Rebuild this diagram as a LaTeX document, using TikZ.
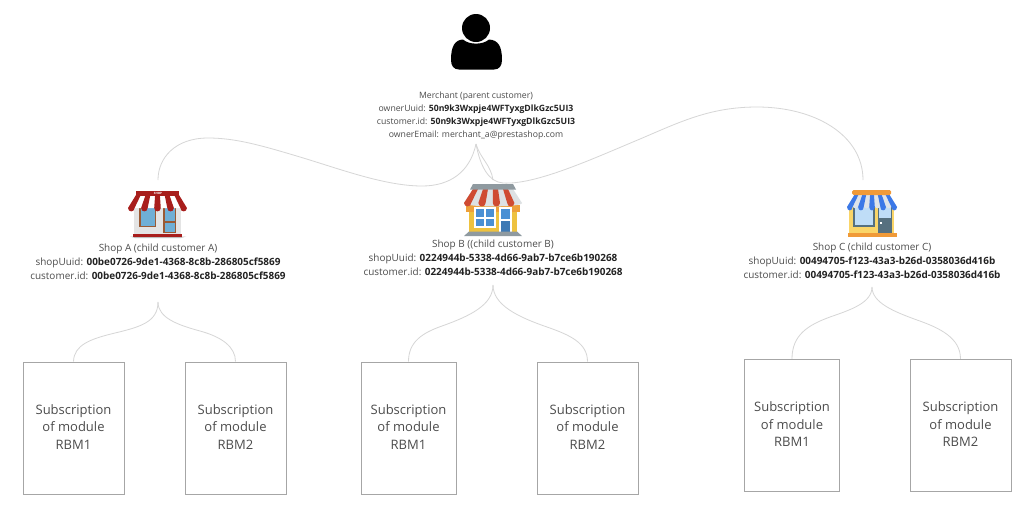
\documentclass[tikz,border=0pt]{standalone}
\usepackage{fontspec}
\setmainfont{Open Sans}
\definecolor{txt}{HTML}{4C4C4C}
\definecolor{boldtxt}{HTML}{222222}
\definecolor{wire}{HTML}{D6D6D6}
\definecolor{frame}{HTML}{A6A6A6}
\definecolor{redA}{HTML}{A81E1C}
\definecolor{wallA}{HTML}{E4E4E4}
\definecolor{glassA}{HTML}{6FAFD6}
\definecolor{woodA}{HTML}{9A5A34}
\definecolor{greyB}{HTML}{8F9AA0}
\definecolor{redB}{HTML}{CF4B32}
\definecolor{lightB}{HTML}{DDE1E3}
\definecolor{yellowB}{HTML}{EEC23F}
\definecolor{orangeB}{HTML}{EDA03A}
\definecolor{blueB}{HTML}{4A90D4}
\definecolor{orangeC}{HTML}{F09A38}
\definecolor{blueC}{HTML}{3B78E7}
\definecolor{whiteC}{HTML}{DDE3EA}
\definecolor{yellowC}{HTML}{FAD568}
\definecolor{glassC}{HTML}{BFDDF7}
\definecolor{slateC}{HTML}{56707F}
\tikzset{
  x=1pt,y=-1pt,
  wireline/.style={draw=wire,line width=0.8pt},
  infotext/.style={align=center,text=txt,font=\fontsize{9.95}{14}\selectfont,inner sep=0pt},
  merchanttext/.style={infotext,font=\fontsize{8.7}{13}\selectfont},
  subbox/.style={draw=frame,line width=1pt,fill=white,minimum width=101pt,minimum height=132pt,inner sep=0pt,align=center,text=txt,font=\fontsize{13}{17.5}\selectfont},
  narrowbox/.style={subbox,minimum width=95pt},
}
\newcommand{\bv}[1]{\textcolor{boldtxt}{\textbf{#1}}}
\newcommand{\subtext}[1]{Subscription\\of module\\RBM#1\rule[-2pt]{0pt}{2pt}}
% colour, top x, top step, bottom x, bottom step, y top, y bottom, list of stripes
\newcommand{\awning}[8]{%
  \foreach \i in {#8}{%
    \pgfmathsetmacro{\ta}{#2+\i*#3}\pgfmathsetmacro{\tb}{\ta+#3}%
    \pgfmathsetmacro{\ba}{#4+\i*#5}\pgfmathsetmacro{\bb}{\ba+#5}%
    \fill[#1] (\ta,#6) -- (\tb,#6) -- (\bb,#7) .. controls (\bb,#7+4.5) and (\ba,#7+4.5) .. (\ba,#7) -- cycle;
  }%
}
\begin{document}
\begin{tikzpicture}
\useasboundingbox (0,0) rectangle (1026,504);
\fill[white] (0,0) rectangle (1026,504);

% connector ends
\coordinate (mOut) at (476,144);
\coordinate (aIn) at (158,180);
\coordinate (bIn) at (493,180);
\coordinate (cIn) at (863,180);
\coordinate (aOut) at (158,302);
\coordinate (bOut) at (493,285);
\coordinate (cOut) at (872,287);

% boxes
\node[subbox] (a1) at (73.5,428) {\subtext{1}};
\node[subbox] (a2) at (235.5,428) {\subtext{2}};
\node[narrowbox] (b1) at (408.5,428) {\subtext{1}};
\node[subbox] (b2) at (587.5,428) {\subtext{2}};
\node[narrowbox] (c1) at (792,425.3) {\subtext{1}};
\node[subbox] (c2) at (960.5,425.3) {\subtext{2}};

% connectors
\draw[wireline] (mOut) .. controls (470,172) and (450,186) .. (422,186)
  .. controls (385,186) and (340,169) .. (300,157)
  .. controls (260,145) and (235,138) .. (208,138)
  .. controls (175,138) and (158,158) .. (aIn);
\draw[wireline] (mOut) .. controls (480,165) and (488,182) .. (503,183)
  .. controls (535,185) and (590,160) .. (640,139)
  .. controls (680,122) and (710,107) .. (757,107)
  .. controls (815,107) and (863,135) .. (cIn);
\draw[wireline] (mOut) .. controls (480,158) and (491,165) .. (bIn);

\draw[wireline] (aOut) .. controls (158,322) and (140,327) .. (115,333)
  .. controls (90,339) and (74,345) .. (a1.north);
\draw[wireline] (aOut) .. controls (158,318) and (178,325) .. (200,331)
  .. controls (222,337) and (235.5,347) .. (a2.north);
\draw[wireline] (bOut) .. controls (493,305) and (470,316) .. (442,326)
  .. controls (422,333) and (408.5,342) .. (b1.north);
\draw[wireline] (bOut) .. controls (493,305) and (518,317) .. (547,327)
  .. controls (570,335) and (587.5,343) .. (b2.north);
\draw[wireline] (cOut) .. controls (872,303) and (850,310) .. (830,317)
  .. controls (808,325) and (792,335) .. (c1.north);
\draw[wireline] (cOut) .. controls (872,303) and (895,312) .. (917,320)
  .. controls (940,328) and (960.5,338) .. (c2.north);

% merchant icon
\fill[black] (476,28) circle (14);
\fill[black] (451,60) .. controls (451,46) and (455,40) .. (463,39.5)
  .. controls (469,45) and (483,45) .. (489,39.5)
  .. controls (498,40) and (502,46) .. (502,60)
  .. controls (502,66) and (499,69.5) .. (494,69.5) -- (459,69.5)
  .. controls (454,69.5) and (451,66) .. (451,60) -- cycle;

% shop A icon
\fill[black!25] (130,236.5) -- (186,236.5) -- (181,238) -- (135,238) -- cycle;
\fill[wallA] (134,205) rectangle (181,234);
\fill[woodA] (139,208) rectangle (156,227);
\fill[glassA] (140.5,208) rectangle (154.5,225.5);
\fill[woodA] (163,208) rectangle (176,233);
\fill[glassA] (164.5,208) rectangle (174.5,221);
\fill[glassA] (164.5,223) rectangle (174.5,232);
\fill[white] (136,195) -- (179,195) -- (187,208) -- (128,208) -- cycle;
\awning{redA}{136}{4.78}{128}{6.55}{195}{208}{0,2,4,6,8}
\fill[redA] (136,191) rectangle (179,196);
\fill[redA] (133,233.5) rectangle (182,236.5);
\node[text=white,font=\fontsize{3}{3}\selectfont\bfseries,inner sep=0pt] (shopword) at (158,193) {SHOP};

% shop B icon
\fill[yellowB] (469,205) rectangle (517,232);
\fill[orangeB] (466,205) rectangle (520,212);
\fill[white] (474,207) rectangle (496,228);
\fill[blueB] (476,209) rectangle (484,217);
\fill[blueB] (486,209) rectangle (494,217);
\fill[blueB] (476,219) rectangle (484,226);
\fill[blueB] (486,219) rectangle (494,226);
\fill[white] (499,207) rectangle (512,232);
\fill[blueB] (501,209) rectangle (510,219);
\fill[blueB!85!black] (501,221) rectangle (510,232);
\fill[greyB] (464,236) -- (469,231.5) -- (517,231.5) -- (522,236) -- cycle;
\fill[lightB] (473,189) -- (513,189) -- (522,203) .. controls (522,207.5) and (464,207.5) .. (464,203) -- cycle;
\awning{redB}{473}{5}{464}{7.2}{189}{203}{0,2,4,6}
\fill[greyB] (470,189.5) -- (473,184) -- (513,184) -- (516,189.5) -- cycle;

% shop C icon
\fill[yellowC] (849,205) rectangle (894,234);
\fill[slateC] (853,205) rectangle (874.5,226.5);
\fill[glassC] (854.5,205) rectangle (873,225);
\fill[slateC] (878,205) rectangle (892,233);
\fill[glassC] (879,205) rectangle (891,218);
\fill[white] (879.5,222) rectangle (881.5,224);
\fill[orangeC] (848,233) rectangle (897,237);
\fill[whiteC] (855,194) -- (889,194) -- (897,207) -- (847,207) -- cycle;
\awning{whiteC}{855}{3.78}{847}{5.56}{194}{205}{1,3,5,7}
\awning{blueC}{855}{3.78}{847}{5.56}{194}{207}{0,2,4,6,8}
\fill[orangeC,rounded corners=1.5pt] (852,190) rectangle (891,195);

% labels
\node[merchanttext] (merchant) at (476,116) {Merchant (parent customer)\\
ownerUuid: \bv{50n9k3Wxpje4WFTyxgDlkGzc5UI3}\\
customer.id: \bv{50n9k3Wxpje4WFTyxgDlkGzc5UI3}\\
ownerEmail: merchant\_a@prestashop.com};
\node[infotext] (shopA) at (158,262) {Shop A (child customer A)\\
shopUuid: \bv{00be0726-9de1-4368-8c8b-286805cf5869}\\
customer.id: \bv{00be0726-9de1-4368-8c8b-286805cf5869}};
\node[infotext] (shopB) at (493,258) {Shop B ((child customer B)\\
shopUuid: \bv{0224944b-5338-4d66-9ab7-b7ce6b190268}\\
customer.id: \bv{0224944b-5338-4d66-9ab7-b7ce6b190268}};
\node[infotext] (shopC) at (872,261) {Shop C (child customer C)\\
shopUuid: \bv{00494705-f123-43a3-b26d-0358036d416b}\\
customer.id: \bv{00494705-f123-43a3-b26d-0358036d416b}};
\end{tikzpicture}
\end{document}
